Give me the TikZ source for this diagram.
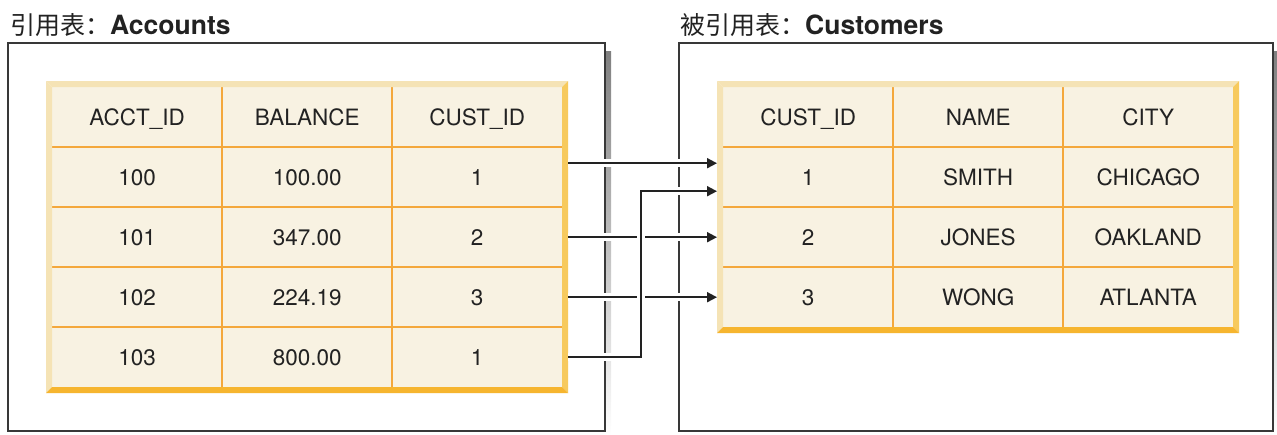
\documentclass[tikz,border=0pt]{standalone}
\usepackage{fontspec}
\newfontfamily\hel{TeX Gyre Heros}
\newfontfamily\cjk{Noto Sans CJK SC}
\usetikzlibrary{arrows.meta}
\definecolor{cellfill}{HTML}{F8F2E2}
\definecolor{gridline}{HTML}{F4A83C}
\definecolor{bevlight}{HTML}{F5E3B5}
\definecolor{bevright}{HTML}{F7CA5E}
\definecolor{bevbottom}{HTML}{F6B52F}
\definecolor{ink}{HTML}{222222}
\definecolor{shade}{HTML}{EBEBEB}
\tikzset{
  cell/.style={fill=cellfill,minimum width=170pt,minimum height=60pt,inner sep=0pt,text height=16pt,text depth=0pt,anchor=north west,text=ink,font=\hel\fontsize{22.5}{26}\selectfont},
  gridln/.style={draw=gridline,line width=2pt},
  outerbox/.style={draw=ink!90,line width=1.8pt,fill=white},
  link/.style={draw=ink,line width=1.8pt,-{Triangle[length=10pt,width=10pt]},preaction={draw=white,line width=8pt,-}},
  tabtitle/.style={anchor=base west,inner sep=0pt,text=ink,font=\fontsize{26.5}{30}\selectfont}
}
\begin{document}
\begin{tikzpicture}[x=1pt,y=-1pt]
\useasboundingbox (0,0) rectangle (1277,434);
% titles
\node[tabtitle] (acctTitle) at (10,34) {{\cjk\fontsize{25}{30}\selectfont 引用表：}{\hel\bfseries Accounts}};
\node[tabtitle] (custTitle) at (680,34) {{\cjk\fontsize{25}{30}\selectfont 被引用表：}{\hel\bfseries Customers}};
% boxes with shadow
\fill[shade] (13,51) rectangle (611,436);
\draw[outerbox] (8,43) rectangle (605,431);
\fill[shade] (684,51) rectangle (1279,436);
\draw[outerbox] (679,43) rectangle (1273,431);
% Accounts table
\foreach \r/\a/\b/\c in {1/ACCT\_ID/BALANCE/CUST\_ID,2/100/100.00/1,3/101/347.00/2,4/102/224.19/3,5/103/800.00/1}{
  \node[cell] (a\r1) at (52,{87+60*(\r-1)}) {\a};
  \node[cell] (a\r2) at (222,{87+60*(\r-1)}) {\b};
  \node[cell] (a\r3) at (392,{87+60*(\r-1)}) {\c};
}
\foreach \c in {1,2} \draw[gridln] (a1\c.north east) -- (a5\c.south east);
\foreach \r in {1,...,4} \draw[gridln] (a\r1.south west) -- (a\r3.south east);
% Customers table
\foreach \r/\a/\b/\c in {1/CUST\_ID/NAME/CITY,2/1/SMITH/CHICAGO,3/2/JONES/OAKLAND,4/3/WONG/ATLANTA}{
  \node[cell] (c\r1) at (723,{87+60*(\r-1)}) {\a};
  \node[cell] (c\r2) at (893,{87+60*(\r-1)}) {\b};
  \node[cell] (c\r3) at (1063,{87+60*(\r-1)}) {\c};
}
\foreach \c in {1,2} \draw[gridln] (c1\c.north east) -- (c4\c.south east);
\foreach \r in {1,...,3} \draw[gridln] (c\r1.south west) -- (c\r3.south east);
% bevelled frames
\foreach \xa/\ya/\xb/\yb in {46/81/568/393,717/81/1239/333}{
  \fill[bevlight] (\xa,\ya) -- (\xb,\ya) -- (\xb-6,\ya+6) -- (\xa+6,\ya+6) -- cycle;
  \fill[bevlight] (\xa,\ya) -- (\xa+6,\ya+6) -- (\xa+6,\yb-6) -- (\xa,\yb) -- cycle;
  \fill[bevright] (\xb,\ya) -- (\xb,\yb) -- (\xb-6,\yb-6) -- (\xb-6,\ya+6) -- cycle;
  \fill[bevbottom] (\xa,\yb) -- (\xb,\yb) -- (\xb-6,\yb-6) -- (\xa+6,\yb-6) -- cycle;
}
% links
\coordinate (s1) at ([shift={(6,-14)}]a23.east);
\coordinate (t1) at ([shift={(-6,-14)}]c21.west);
\coordinate (s2) at ([xshift=6pt]a33.east);
\coordinate (t2) at ([xshift=-6pt]c31.west);
\coordinate (s3) at ([xshift=6pt]a43.east);
\coordinate (t3) at ([xshift=-6pt]c41.west);
\coordinate (s4) at ([xshift=6pt]a53.east);
\coordinate (t4) at ([shift={(-6,14)}]c21.west);
\coordinate (bend) at (641,0);
\draw[link] (s1) -- (t1);
\draw[link] (s2) -- (t2);
\draw[link] (s3) -- (t3);
\draw[link] (s4) -| (bend |- t4) -- (t4);
\end{tikzpicture}
\end{document}
